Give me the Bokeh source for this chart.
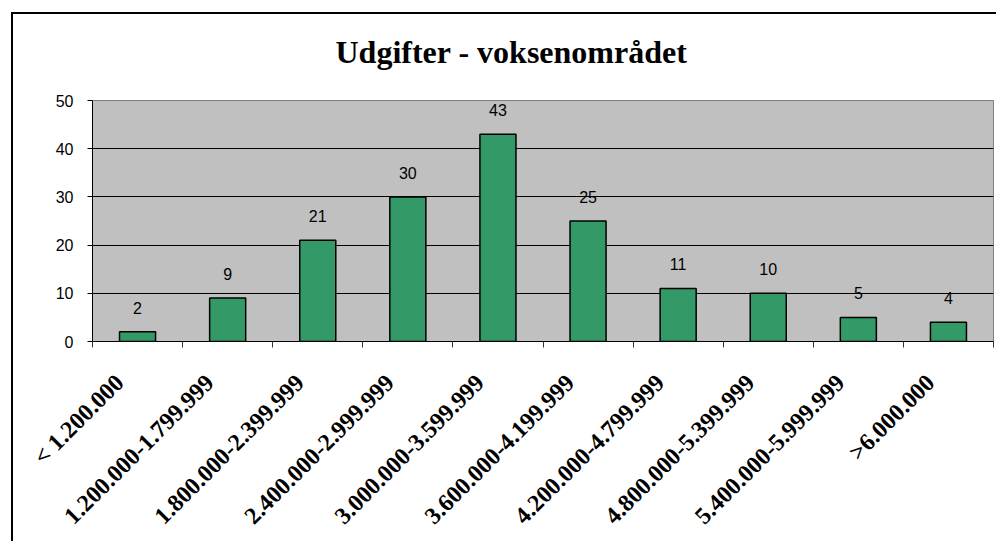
from math import pi
from bokeh.plotting import figure
from bokeh.models import (Range1d, LinearAxis, FixedTicker, ColumnDataSource)
from bokeh.core.properties import value
from bokeh.embed import file_html
from bokeh.resources import INLINE

# ---- data ----
categories = ["< 1.200.000", "1.200.000-1.799.999", "1.800.000-2.399.999",
              "2.400.000-2.999.999", "3.000.000-3.599.999", "3.600.000-4.199.999",
              "4.200.000-4.799.999", "4.800.000-5.399.999", "5.400.000-5.999.999",
              ">6.000.000"]
counts = [2, 9, 21, 30, 43, 25, 11, 10, 5, 4]
y_ticks = [0, 10, 20, 30, 40, 50]
title_text = "Udgifter - voksenområdet"

n_cat = len(categories)
centers = [i + 0.5 for i in range(n_cat)]
bounds = list(range(n_cat + 1))
label_shift = 0.2  # rotated labels end slightly left of the category centre
label_pos = [c - label_shift for c in centers]

src = ColumnDataSource(dict(x=centers, n=counts, lbl=[str(v) for v in counts]))

p = figure(width=996, height=541, output_backend="svg", toolbar_location=None,
           x_range=Range1d(0, n_cat), y_range=Range1d(0, 50),
           x_axis_location=None, y_axis_location="left",
           min_border_left=92, min_border_right=3, min_border_top=100, min_border_bottom=10)

p.border_fill_color = None
p.background_fill_color = "#C0C0C0"
p.outline_line_color = "#808080"
p.outline_line_width = 1
p.styles = {"box-shadow": "inset 11px 12px 0 0 white, inset 13px 14px 0 0 black"}

# title
p.title.text = title_text
p.title.text_font = "Liberation Serif"
p.title.text_font_style = "bold"
p.title.text_font_size = "32px"
p.title.text_color = "black"
p.title.align = "left"
p.title.offset = 243
p.title.standoff = 61

# grid
p.xgrid.visible = False
p.ygrid.ticker = FixedTicker(ticks=y_ticks[1:-1])
p.ygrid.grid_line_color = "black"
p.ygrid.grid_line_width = 1

# y axis
ya = p.yaxis[0]
ya.ticker = FixedTicker(ticks=y_ticks)
ya.axis_line_color = "black"
ya.major_tick_line_color = "black"
ya.major_tick_out = 5
ya.major_tick_in = 0
ya.minor_tick_line_color = None
ya.major_label_text_font = "Liberation Sans"
ya.major_label_text_font_size = "16px"
ya.major_label_text_color = "black"
ya.major_label_standoff = 14

# x axis: labels near centres, boundary ticks as minor ticks
xa = LinearAxis(ticker=FixedTicker(ticks=label_pos, minor_ticks=bounds),
                major_label_overrides={c: lab for c, lab in zip(label_pos, categories)},
                axis_line_color="black",
                major_tick_line_color=None, major_tick_out=0, major_tick_in=0,
                minor_tick_line_color="#333333", minor_tick_out=6, minor_tick_in=0,
                major_label_orientation=pi / 4,
                major_label_text_font="Liberation Serif",
                major_label_text_font_style="bold",
                major_label_text_font_size="24px",
                major_label_text_color="black",
                major_label_standoff=31)
p.add_layout(xa, "below")

# bars
p.vbar(x="x", top="n", width=0.4, source=src,
       fill_color="#339966", line_color="black", line_width=1.5)

# value labels
p.text(x="x", y="n", text="lbl", source=src, y_offset=-24,
       text_align="center", text_baseline="middle",
       text_font=value("Liberation Sans"), text_font_size="16px", text_color="black")

open("out.html", "w").write(file_html(p, INLINE))
